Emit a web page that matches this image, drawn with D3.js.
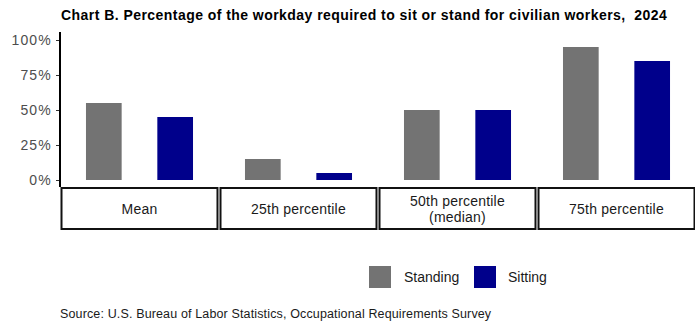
<!DOCTYPE html>
<html>
<head>
<meta charset="utf-8">
<script src="https://cdn.jsdelivr.net/npm/d3@7"></script>
<style>
  body { margin: 0; background: #fff; }
  svg { display: block; font-family: "Liberation Sans", Arial, sans-serif; }
</style>
</head>
<body>
<svg id="chart" width="695" height="326"></svg>
<script>
// Percentiles shown as facets along the bottom
const categories = ["Mean", "25th percentile", "50th percentile (median)", "75th percentile"];
const stripLabels = [["Mean"], ["25th percentile"], ["50th percentile", "(median)"], ["75th percentile"]];
const series = ["Standing", "Sitting"];
const standingValues = [0.55, 0.15, 0.50, 0.95];
const sittingValues = [0.45, 0.05, 0.50, 0.85];
const yTicks = [0, 0.25, 0.5, 0.75, 1];
const colors = { Standing: "#737373", Sitting: "#00008b" };

const svg = d3.select("#chart");

// Title
svg.append("text")
  .attr("x", 61).attr("y", 20)
  .attr("font-size", 14).attr("font-weight", "bold").attr("fill", "#000")
  .attr("letter-spacing", 0.45)
  .attr("xml:space", "preserve")
  .text("Chart B. Percentage of the workday required to sit or stand for civilian workers,  2024");

const panelTop = 32, panelBottom = 187, panelLeft = 61, panelRight = 695;

const y = d3.scaleLinear().domain([0, 1]).range([180, 40]);

const facet = d3.scaleBand()
  .domain(categories)
  .range([panelLeft, panelRight])
  .paddingInner(0.0127);

const inner = d3.scalePoint()
  .domain(series)
  .range([0, facet.bandwidth()])
  .padding(0.6);
const barWidth = inner.step() * 0.5;

const rows = categories.map((c, i) => ({
  category: c,
  values: [
    { key: "Standing", value: standingValues[i] },
    { key: "Sitting", value: sittingValues[i] }
  ]
}));

// Bars
const groups = svg.append("g").selectAll("g")
  .data(rows).join("g")
  .attr("transform", d => `translate(${facet(d.category)},0)`);

groups.selectAll("rect")
  .data(d => d.values).join("rect")
  .attr("x", d => inner(d.key) - barWidth / 2)
  .attr("width", barWidth)
  .attr("y", d => y(d.value))
  .attr("height", d => y(0) - y(d.value))
  .attr("fill", d => colors[d.key]);

// Y axis
const yAxis = d3.axisLeft(y)
  .tickValues(yTicks)
  .tickFormat(d3.format(".0%"))
  .tickSize(4)
  .tickPadding(4);

const ax = svg.append("g")
  .attr("transform", `translate(${panelLeft - 1},0)`)
  .call(yAxis);
ax.select(".domain").remove();
ax.selectAll(".tick line").attr("stroke", "#333").attr("stroke-width", 1);
ax.selectAll(".tick text")
  .attr("font-size", 14).attr("fill", "#4d4d4d")
  .attr("letter-spacing", 1.2)
  .attr("font-family", "'Liberation Sans', Arial, sans-serif");
svg.append("line")
  .attr("x1", panelLeft - 1).attr("x2", panelLeft - 1)
  .attr("y1", panelTop).attr("y2", panelBottom)
  .attr("stroke", "#000").attr("stroke-width", 2);

// Strips at the bottom of each facet
const stripTop = 188, stripBottom = 229;
const strips = svg.append("g").selectAll("g")
  .data(categories).join("g")
  .attr("transform", d => `translate(${facet(d)},0)`);

strips.append("rect")
  .attr("x", 0.5).attr("y", stripTop)
  .attr("width", facet.bandwidth() - 1)
  .attr("height", stripBottom - stripTop)
  .attr("fill", "#fff").attr("stroke", "#111").attr("stroke-width", 2);

strips.append("text")
  .attr("text-anchor", "middle")
  .attr("font-size", 14).attr("fill", "#1a1a1a")
  .attr("letter-spacing", 0.2)
  .attr("x", facet.bandwidth() / 2)
  .each(function(d, i) {
    const lines = stripLabels[i];
    const t = d3.select(this);
    const mid = (stripTop + stripBottom) / 2;
    const lh = 16;
    lines.forEach((l, j) => {
      t.append("tspan")
        .attr("x", facet.bandwidth() / 2)
        .attr("y", mid + 5 + (j - (lines.length - 1) / 2) * lh)
        .text(l);
    });
  });

// Legend
const legendItems = [
  { key: "Standing", x: 369, tx: 404 },
  { key: "Sitting", x: 474, tx: 508 }
];
const legend = svg.append("g").selectAll("g").data(legendItems).join("g");
legend.append("rect")
  .attr("x", d => d.x).attr("y", 266)
  .attr("width", 22).attr("height", 22)
  .attr("fill", d => colors[d.key]);
legend.append("text")
  .attr("x", d => d.tx).attr("y", 282)
  .attr("font-size", 14).attr("fill", "#1a1a1a")
  .text(d => d.key);

// Source note
svg.append("text")
  .attr("x", 60).attr("y", 318)
  .attr("font-size", 12.5).attr("fill", "#1a1a1a")
  .attr("letter-spacing", 0.14)
  .text("Source: U.S. Bureau of Labor Statistics, Occupational Requirements Survey");
</script>
</body>
</html>
